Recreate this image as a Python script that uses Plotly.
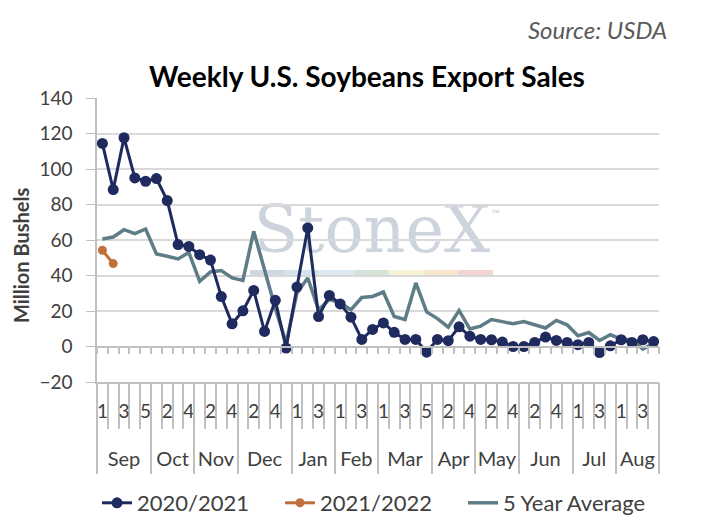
import plotly.graph_objects as go

# weekly soybean export sales, million bushels (marketing year Sep-Aug)
months = ["Sep", "Oct", "Nov", "Dec", "Jan", "Feb", "Mar", "Apr", "May", "Jun", "Jul", "Aug"]
weeks_per_month = [5, 4, 4, 5, 4, 4, 5, 4, 4, 5, 4, 4]
week_ticks = ["1", "3", "5", "2", "4", "2", "4", "2", "4", "1", "3", "1", "3",
              "1", "3", "5", "2", "4", "2", "4", "2", "4", "1", "3", "1", "3"]

sales_2020_21 = [114.4, 88.4, 117.6, 95.0, 93.1, 94.6, 82.2, 57.4, 56.4, 51.7,
                 48.7, 28.1, 12.8, 20.1, 31.6, 8.5, 26.0, -0.9, 33.5, 66.8,
                 16.9, 28.8, 24.0, 16.5, 4.0, 9.6, 13.3, 8.0, 4.0, 4.0,
                 -3.2, 4.0, 3.3, 11.1, 5.8, 4.0, 3.8, 2.5, 0.0, 0.0,
                 2.3, 5.3, 3.4, 2.3, 1.0, 2.3, -3.4, 0.4, 3.8, 2.3,
                 3.8, 2.8]
sales_2021_22 = [54.2, 46.7]
five_year_avg = [60.6, 61.7, 65.8, 63.6, 66.2, 52.1, 50.8, 49.3, 53.0, 36.7,
                 42.0, 42.8, 38.6, 37.2, 64.9, 43.3, 21.6, 1.9, 30.1, 38.6,
                 20.7, 26.5, 24.5, 20.7, 27.6, 28.2, 30.7, 16.9, 15.2, 35.8,
                 19.5, 15.7, 10.9, 20.3, 9.9, 11.5, 15.2, 14.0, 12.8, 14.1,
                 12.2, 10.4, 14.7, 12.2, 6.0, 7.9, 3.4, 6.6, 4.2, 3.8,
                 -1.5, 1.9]

NAVY = "#1f2a5e"
ORANGE = "#c0703a"
TEAL = "#5f7d87"
AXIS = "#bfbfbf"
GRID = "#d9d9d9"
TEXT = "#404040"
FONT = "Lato"

n = sum(weeks_per_month)
weeks = list(range(1, n + 1))
bounds = [k + 0.5 for k in range(n + 1)]
month_edges = [0.5]
for w in weeks_per_month:
    month_edges.append(month_edges[-1] + w)
month_mid = [(a + b) / 2 for a, b in zip(month_edges[:-1], month_edges[1:])]
xr = [0.5, n + 0.5]

# plot area in pixels, used for paper-coordinate decorations
L, R, T, B = 97, 659, 98, 382
def px_x(p):
    return (p - L) / (R - L)
def px_y(p):
    return (B - p) / (B - T)

fig = go.Figure()
fig.add_trace(go.Scatter(x=weeks, y=five_year_avg, name="5 Year Average",
                         mode="lines", line=dict(color=TEAL, width=3.5),
                         legendrank=3))
fig.add_trace(go.Scatter(x=weeks[:len(sales_2021_22)], y=sales_2021_22, xaxis="x2",
                         name="2021/2022", mode="lines+markers",
                         line=dict(color=ORANGE, width=3),
                         marker=dict(size=9, color=ORANGE), legendrank=2))
fig.add_trace(go.Scatter(x=weeks, y=sales_2020_21, xaxis="x3", name="2020/2021",
                         mode="lines+markers", line=dict(color=NAVY, width=3),
                         marker=dict(symbol="circle", size=11, color=NAVY),
                         legendrank=1))

# watermark
fig.add_shape(type="rect", xref="paper", yref="paper", x0=px_x(250), x1=px_x(494),
              y0=px_y(256), y1=px_y(192), line_width=0, fillcolor="rgba(0,0,0,0)",
              layer="below",
              label=dict(text="StoneX", textposition="middle center",
                         font=dict(family="DejaVu Serif", size=65, color="#cdd4dd")))
bar_cols = ["#cfd8e0", "#d5e3ee", "#dce9f2", "#d3e3d6", "#f6f3d6", "#f8e6cc", "#f4d3d3"]
seg = 34.7
for k, c in enumerate(bar_cols):
    fig.add_shape(type="rect", xref="paper", yref="paper",
                  x0=px_x(250 + k * seg), x1=px_x(250 + (k + 1) * seg),
                  y0=px_y(277), y1=px_y(270), line_width=0, fillcolor=c, layer="below")
fig.add_annotation(text="™", xref="paper", yref="paper", x=px_x(502), y=px_y(213),
                   showarrow=False,
                   font=dict(family="Liberation Sans", size=9, color="#c8ced6"))

fig.add_annotation(text="<i>Source: USDA</i>", xref="paper", yref="paper",
                   x=px_x(669), y=px_y(29), xanchor="right", yanchor="middle",
                   showarrow=False, font=dict(family=FONT, size=24, color="#595959"))
fig.add_annotation(text="<b>Million Bushels</b>", xref="paper", yref="paper",
                   x=px_x(21), y=px_y(256), textangle=-90, showarrow=False,
                   xanchor="center", yanchor="middle",
                   font=dict(family=FONT, size=20, color=TEXT))

fig.update_layout(
    width=703, height=524,
    margin=dict(l=L, r=703 - R, t=T, b=524 - B, autoexpand=False),
    paper_bgcolor="white", plot_bgcolor="white",
    font=dict(family=FONT, size=18, color=TEXT),
    title=dict(text="<b>Weekly U.S. Soybeans Export Sales</b>", x=367 / 703,
               xanchor="center", y=1 - 77 / 524, yanchor="middle",
               font=dict(family=FONT, size=28, color="#000000")),
    showlegend=True,
    legend=dict(orientation="h", xref="container", x=97 / 703, xanchor="left",
                yref="container", y=1 - 482 / 524, yanchor="top", entrywidth=138,
                font=dict(size=22, color=TEXT), traceorder="normal"),
    xaxis=dict(range=xr, showgrid=False, zeroline=False, showline=True,
               linecolor=AXIS, linewidth=1.5, automargin=False,
               tickmode="array", tickvals=weeks[::2], ticktext=week_ticks,
               ticks="", ticklabelstandoff=11, tickfont=dict(size=19),
               minor=dict(tickmode="array", tickvals=bounds, ticks="outside",
                          ticklen=45, tickcolor=AXIS, tickwidth=1.5, showgrid=False)),
    xaxis2=dict(range=xr, overlaying="x", anchor="y", side="bottom", matches="x",
                showgrid=False, zeroline=False, showline=False, automargin=False,
                tickmode="array", tickvals=month_mid, ticktext=months,
                ticks="", ticklabelstandoff=63, tickfont=dict(size=20),
                minor=dict(tickmode="array", tickvals=month_edges, ticks="outside",
                           ticklen=91, tickcolor=AXIS, tickwidth=1.5, showgrid=False)),
    xaxis3=dict(range=xr, overlaying="x", anchor="free", position=20 / 160,
                matches="x", showgrid=False, zeroline=False, showline=True,
                linecolor=AXIS, linewidth=1.5, showticklabels=False, automargin=False,
                tickmode="array", tickvals=bounds, ticks="outside", ticklen=7,
                tickcolor=AXIS, tickwidth=1.5),
    yaxis=dict(range=[-20, 140], dtick=20, tick0=0, showgrid=True, gridcolor=GRID,
               gridwidth=1.5, zeroline=False, showline=True, linecolor=AXIS,
               linewidth=1.5, ticks="outside", ticklen=9, tickcolor=AXIS,
               ticklabelstandoff=10, tickfont=dict(size=19), automargin=False),
)

# page body has a default margin; drop it so the figure fills the window
fig.write_html("out.html", config={"displayModeBar": False},
               post_script="document.body.style.margin='0';")
